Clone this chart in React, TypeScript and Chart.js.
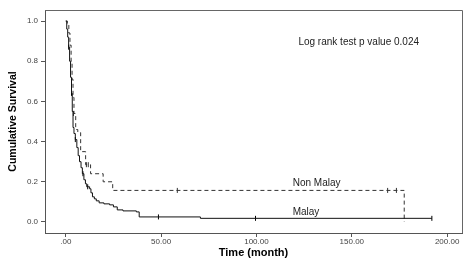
import React, { useEffect, useRef } from "react";
import { Chart, registerables } from "chart.js";
Chart.register(...registerables);

// Kaplan-Meier step points (time in months, cumulative survival after event)
const malayTimes = [0, 0.5, 1.0, 1.5, 2.0, 2.5, 3.0, 3.4, 3.8, 4.3, 5.0, 5.8, 6.5, 7.2, 8.0, 8.7, 9.5, 10.3, 11.0, 12.5, 13.2, 14.0, 15.0, 16.0, 17.5, 20.0, 23.0, 25.0, 27.0, 30.0, 37.0, 38.5, 70.6, 192];
const malaySurv = [1.0, 0.96, 0.92, 0.87, 0.8, 0.72, 0.64, 0.55, 0.47, 0.44, 0.41, 0.37, 0.33, 0.3, 0.27, 0.24, 0.21, 0.19, 0.175, 0.165, 0.145, 0.125, 0.115, 0.105, 0.095, 0.09, 0.085, 0.075, 0.06, 0.055, 0.05, 0.025, 0.018, 0.018];

const nonMalayTimes = [0, 0.8, 1.6, 2.2, 2.8, 3.3, 3.8, 4.3, 5.2, 6.3, 7.8, 10.4, 13.0, 19.6, 24.6, 177.5];
const nonMalaySurv = [1.0, 0.98, 0.94, 0.88, 0.8, 0.71, 0.62, 0.54, 0.46, 0.445, 0.35, 0.285, 0.24, 0.2, 0.157, 0.0];

// Censored observations
const malayCensorTimes = [1.5, 3.0, 5.0, 9.0, 11.5, 48.6, 99.5, 192];
const malayCensorSurv = [0.87, 0.64, 0.41, 0.24, 0.175, 0.025, 0.018, 0.018];
const nonMalayCensorTimes = [4.0, 10.8, 11.8, 58.5, 168.8, 173.4];
const nonMalayCensorSurv = [0.54, 0.285, 0.285, 0.157, 0.157, 0.157];

const yTicks = [0, 0.2, 0.4, 0.6, 0.8, 1.0];
const xTicks = [0, 50, 100, 150, 200];

const groupLabels = ["Non Malay", "Malay"];
const annotationText = "Log rank test p value 0.024";

const FONT = "'Liberation Sans', Arial, sans-serif";

const toXY = (xs: number[], ys: number[]) => xs.map((x, i) => ({ x, y: ys[i] }));

export default function App() {
  const ref = useRef<HTMLCanvasElement>(null);
  useEffect(() => {
    document.body.style.margin = "0";
    const canvas = ref.current!;
    const overlay = {
      id: "overlay",
      afterDraw(chart: any) {
        const { ctx, chartArea, scales } = chart;
        ctx.save();
        ctx.strokeStyle = "#666";
        ctx.lineWidth = 1;
        ctx.beginPath();
        ctx.moveTo(chartArea.left, Math.round(chartArea.top) + 0.5);
        ctx.lineTo(Math.round(chartArea.right) + 0.5, Math.round(chartArea.top) + 0.5);
        ctx.lineTo(Math.round(chartArea.right) + 0.5, chartArea.bottom);
        ctx.stroke();
        ctx.fillStyle = "#222";
        ctx.font = `10px ${FONT}`;
        ctx.textBaseline = "middle";
        ctx.textAlign = "left";
        const xs = scales.x, ys = scales.y;
        ctx.fillText(annotationText, xs.getPixelForValue(122), ys.getPixelForValue(0.895));
        ctx.fillText(groupLabels[0], xs.getPixelForValue(119), ys.getPixelForValue(0.195));
        ctx.fillText(groupLabels[1], xs.getPixelForValue(119), ys.getPixelForValue(0.05));
        ctx.restore();
      },
    };
    const chart = new Chart(canvas, {
      type: "line",
      data: {
        datasets: [
          {
            label: groupLabels[1],
            data: toXY(malayTimes, malaySurv),
            stepped: "before",
            borderColor: "#111",
            borderWidth: 1,
            pointRadius: 0,
            fill: false,
          },
          {
            label: groupLabels[0],
            data: toXY(nonMalayTimes, nonMalaySurv),
            stepped: "before",
            borderColor: "#333",
            borderWidth: 1,
            borderDash: [4, 3],
            pointRadius: 0,
            fill: false,
          },
          {
            label: "Malay censored",
            data: toXY(malayCensorTimes, malayCensorSurv),
            showLine: false,
            pointStyle: "line",
            rotation: 90,
            pointRadius: 2.5,
            borderColor: "#000",
            borderWidth: 1,
          },
          {
            label: "Non Malay censored",
            data: toXY(nonMalayCensorTimes, nonMalayCensorSurv),
            showLine: false,
            pointStyle: "line",
            rotation: 90,
            pointRadius: 2.5,
            borderColor: "#333",
            borderWidth: 1,
          },
        ],
      },
      options: {
        responsive: false,
        animation: false,
        layout: { padding: { top: 10, right: 2, left: 0, bottom: 0 } },
        plugins: { legend: { display: false }, tooltip: { enabled: false } },
        scales: {
          x: {
            type: "linear",
            min: -10.9,
            max: 207.8,
            afterBuildTicks: (s: any) => {
              s.ticks = xTicks.map((v) => ({ value: v }));
            },
            afterFit: (s: any) => {
              s.height = 27;
            },
            ticks: {
              padding: 0,
              color: "#444",
              font: { size: 8, family: FONT },
              maxRotation: 0,
              autoSkip: false,
              callback: (v: any) => (Number(v) === 0 ? ".00" : Number(v).toFixed(2)),
            },
            grid: { display: true, drawOnChartArea: false, drawTicks: true, tickLength: 4, color: "#555" },
            border: { display: true, color: "#555" },
            title: {
              display: true,
              text: "Time (month)",
              color: "#000",
              font: { size: 11, weight: "bold", family: FONT },
              padding: { top: 1, bottom: 0 },
            },
          },
          y: {
            type: "linear",
            min: -0.055,
            max: 1.055,
            afterBuildTicks: (s: any) => {
              s.ticks = yTicks.map((v) => ({ value: v }));
            },
            afterFit: (s: any) => {
              s.width = 45;
            },
            ticks: {
              padding: 3,
              color: "#444",
              font: { size: 8, family: FONT },
              callback: (v: any) => Number(v).toFixed(1),
            },
            grid: { display: true, drawOnChartArea: false, drawTicks: true, tickLength: 4, color: "#555" },
            border: { display: true, color: "#555" },
            title: {
              display: true,
              text: "Cumulative Survival",
              color: "#000",
              font: { size: 10.5, weight: "bold", family: "'Liberation Sans Narrow', 'Liberation Sans', Arial, sans-serif" },
              padding: { top: 7, bottom: 0 },
            },
          },
        },
      },
      plugins: [overlay],
    } as any);
    return () => chart.destroy();
  }, []);
  return (
    <div style={{ width: 467, height: 260 }}>
      <canvas ref={ref} width={467} height={260} style={{ display: "block" }} />
    </div>
  );
}
